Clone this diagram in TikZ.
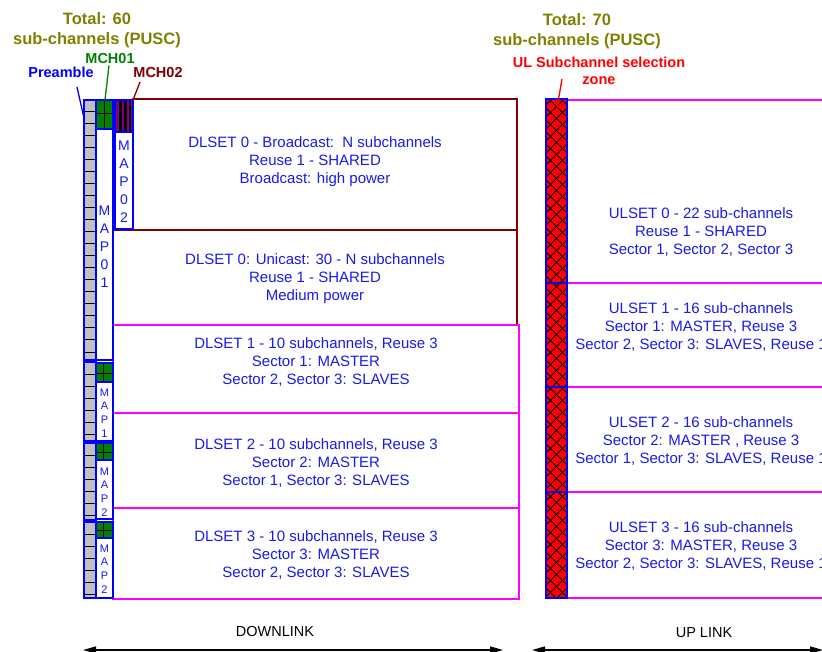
\documentclass[tikz,border=0pt]{standalone}
\usepackage{fontspec}
\setmainfont{Liberation Sans}
\usetikzlibrary{arrows.meta}
\definecolor{txtblue}{RGB}{25,25,235}
\definecolor{maroonc}{RGB}{128,0,0}
\definecolor{olivec}{RGB}{128,128,0}
\definecolor{greenc}{RGB}{0,128,0}
\definecolor{purplec}{RGB}{128,0,128}
\definecolor{grayc}{RGB}{192,192,192}
\definecolor{magentac}{RGB}{255,0,255}
\begin{document}
\begin{tikzpicture}[x=1pt,y=-1pt,
  rect/.style={inner sep=0pt, outer sep=0pt, anchor=north west, line width=1.8pt},
  dlbox/.style={rect, draw=maroonc},
  mgbox/.style={rect, draw=magentac},
  bluebox/.style={rect, draw=blue},
  txt/.style={text=txtblue, align=center, inner sep=0pt, font=\fontsize{15}{18}\selectfont},
  vmap/.style={text=txtblue, align=center, inner sep=0pt, font=\fontsize{14}{18}\selectfont},
  vmaps/.style={text=txtblue, align=center, inner sep=0pt, font=\fontsize{11}{13.8}\selectfont},
  title/.style={text=olivec, align=center, inner sep=0pt, font=\fontsize{16.5}{20.5}\selectfont\bfseries},
  lbl/.style={align=center, inner sep=0pt, font=\fontsize{14.5}{17.5}\selectfont\bfseries},
  biarrow/.style={line width=1.3pt, {Triangle[length=13pt,width=7pt]}-{Triangle[length=13pt,width=7pt]}}
]
\useasboundingbox (0,0) rectangle (822,652);
\clip (0,0) rectangle (822,652);

% ---------------- Downlink boxes ----------------
\node[dlbox, minimum width=384pt, minimum height=131pt] (dl0b) at (133,99) {};
\node[dlbox, minimum width=404pt, minimum height=95pt] (dl0u) at (113,230) {};
\node[mgbox, minimum width=406pt, minimum height=88pt] (dl1) at (113,325) {};
\node[mgbox, minimum width=406pt, minimum height=95pt] (dl2) at (113,413) {};
\node[mgbox, minimum width=406pt, minimum height=91pt] (dl3) at (113,508) {};

\node[txt] (t0b) at (315,162) {DLSET 0 - Broadcast:\ \ N subchannels\\Reuse 1 - SHARED\\Broadcast: high power};
\node[txt] (t0u) at (315,279) {DLSET 0: Unicast: 30 - N subchannels\\Reuse 1 - SHARED\\Medium power};
\node[txt] (t1) at (316,362) {DLSET 1 - 10 subchannels, Reuse 3\\Sector 1: MASTER\\Sector 2, Sector 3: SLAVES};
\node[txt] (t2) at (316,463) {DLSET 2 - 10 subchannels, Reuse 3\\Sector 2: MASTER\\Sector 1, Sector 3: SLAVES};
\node[txt] (t3) at (316,555.5) {DLSET 3 - 10 subchannels, Reuse 3\\Sector 3: MASTER\\Sector 2, Sector 3: SLAVES};

% ---------------- Preamble column ----------------
\node[rect, fill=grayc, minimum width=12pt, minimum height=260pt] (pre0) at (84,100) {};
\node[rect, fill=grayc, minimum width=12pt, minimum height=79pt] (pre1) at (84,362) {};
\node[rect, fill=grayc, minimum width=12pt, minimum height=77pt] (pre2) at (84,443) {};
\node[rect, fill=grayc, minimum width=12pt, minimum height=76pt] (pre3) at (84,522) {};
\foreach \y in {112,124,...,352} \draw[line width=1pt] (85,\y) -- (95,\y);
\foreach \y in {374,386,...,434} \draw[line width=1pt] (85,\y) -- (95,\y);
\foreach \y in {455,467,...,515} \draw[line width=1pt] (85,\y) -- (95,\y);
\foreach \y in {534,546,...,594} \draw[line width=1pt] (85,\y) -- (95,\y);
\foreach \n in {pre0,pre1,pre2,pre3} \draw[blue, line width=1.8pt] (\n.north west) rectangle (\n.south east);

% ---------------- MCH / MAP columns ----------------
\node[rect, fill=greenc, minimum width=17pt, minimum height=29pt] (mch01) at (96,100) {};
\draw[line width=1pt] (104.5,100) -- (104.5,129) (96,114) -- (113,114);
\node[bluebox, fill=white, minimum width=17pt, minimum height=231pt] (map01) at (96,129) {};
\draw[blue, line width=1.8pt] (mch01.north west) rectangle (mch01.south east);
\node[vmap] (map01t) at (104.5,247) {M\\A\\P\\0\\1};

\node[rect, fill=purplec, minimum width=18pt, minimum height=32pt] (mch02) at (115,100) {};
\foreach \x in {120.5,125.5,130} \draw[line width=2.4pt] (\x,100) -- (\x,132);
\draw[blue, line width=1.8pt] (mch02.north west) rectangle (mch02.south east);
\node[bluebox, fill=white, minimum width=18pt, minimum height=97pt] (map02) at (115,132) {};
\node[vmap] (map02t) at (124,182) {M\\A\\P\\0\\2};

\node[rect, fill=greenc, minimum width=17pt, minimum height=19pt] (mch1) at (96,363) {};
\draw[line width=1pt] (103.5,363) -- (103.5,382) (96,373) -- (113,373);
\draw[blue, line width=1.8pt] (mch1.north west) rectangle (mch1.south east);
\node[bluebox, fill=white, minimum width=17pt, minimum height=59pt] (map1) at (96,382) {};
\node[vmaps] (map1t) at (104.5,413) {M\\A\\P\\1};

\node[rect, fill=greenc, minimum width=17pt, minimum height=17pt] (mch2) at (96,443) {};
\draw[line width=1pt] (103.5,443) -- (103.5,460) (96,452) -- (113,452);
\draw[blue, line width=1.8pt] (mch2.north west) rectangle (mch2.south east);
\node[bluebox, fill=white, minimum width=17pt, minimum height=59pt] (map2) at (96,460) {};
\node[vmaps] (map2t) at (104.5,492) {M\\A\\P\\2};

\node[rect, fill=greenc, minimum width=17pt, minimum height=16pt] (mch3) at (96,522) {};
\draw[line width=1pt] (103.5,522) -- (103.5,538) (96,530) -- (113,530);
\draw[blue, line width=1.8pt] (mch3.north west) rectangle (mch3.south east);
\node[bluebox, fill=white, minimum width=17pt, minimum height=60pt] (map3) at (96,538) {};
\node[vmaps] (map3t) at (104.5,569) {M\\A\\P\\2};

% ---------------- Uplink ----------------
\node[mgbox, minimum width=300pt, minimum height=183pt] (ul0) at (567,100) {};
\node[mgbox, minimum width=300pt, minimum height=104pt] (ul1) at (567,283) {};
\node[mgbox, minimum width=300pt, minimum height=105pt] (ul2) at (567,387) {};
\node[mgbox, minimum width=300pt, minimum height=106pt] (ul3) at (567,492) {};

\node[txt] (u0t) at (701,232.5) {ULSET 0 - 22 sub-channels\\Reuse 1 - SHARED\\Sector 1, Sector 2, Sector 3};
\node[txt] (u1t) at (701,327.5) {ULSET 1 - 16 sub-channels\\Sector 1: MASTER, Reuse 3\\Sector 2, Sector 3: SLAVES, Reuse 1};
\node[txt] (u2t) at (701,441.5) {ULSET 2 - 16 sub-channels\\Sector 2: MASTER , Reuse 3\\Sector 1, Sector 3: SLAVES, Reuse 1};
\node[txt] (u3t) at (701,546.5) {ULSET 3 - 16 sub-channels\\Sector 3: MASTER, Reuse 3\\Sector 2, Sector 3: SLAVES, Reuse 1};

\node[rect, fill=red, minimum width=21pt, minimum height=499pt] (ulcol) at (546,99) {};
\begin{scope}
  \clip (546,99) rectangle (567,598);
  \foreach \c in {-60,-48,...,600} {
    \draw[line width=1pt] (546,\c) -- (567,\c+21);
    \draw[line width=1pt] (546,\c+21) -- (567,\c);
  }
\end{scope}
\draw[blue, line width=1.8pt] (ulcol.north west) rectangle (ulcol.south east);
\foreach \y in {283,387,492} \draw[blue, line width=1.8pt] (546,\y) -- (567,\y);

% ---------------- Labels ----------------
\node[title] (tot60) at (97,30) {Total: 60\\sub-channels (PUSC)};
\node[title] (tot70) at (577,31) {Total: 70\\sub-channels (PUSC)};
\node[lbl, text=red] (ulsel) at (599,71) {UL Subchannel selection\\zone};
\node[lbl, text=blue] (prelbl) at (61,72) {Preamble};
\node[lbl, text=greenc] (mch01lbl) at (110,59) {MCH01};
\node[lbl, text=maroonc] (mch02lbl) at (158,73) {MCH02};

\coordinate (preA) at (77,87);
\coordinate (preB) at (84,118);
\coordinate (mch02A) at (140,82);
\coordinate (ulA) at (562,79);
\coordinate (ulB) at (557,108);
\draw[blue, line width=1.3pt] (preA) -- (preB);
\draw[greenc, line width=1.3pt] (mch01lbl.south) ++(-1,1) -- (mch01.north -| 105,0);
\draw[maroonc, line width=1.3pt] (mch02A) -- (mch02.north east);
\draw[red, line width=1.3pt] (ulA) -- (ulB);

% ---------------- Arrows ----------------
\node[inner sep=0pt, font=\fontsize{14.5}{17}\selectfont] (dltxt) at (275,632) {DOWNLINK};
\node[inner sep=0pt, font=\fontsize{14.5}{17}\selectfont] (ultxt) at (704,633) {UP LINK};
\coordinate (dlL) at (83,650);
\coordinate (dlR) at (503,650);
\coordinate (ulL) at (532,650);
\coordinate (ulR) at (823,650);
\draw[biarrow] (dlL) -- (dlR);
\draw[biarrow] (ulL) -- (ulR);
\end{tikzpicture}
\end{document}
